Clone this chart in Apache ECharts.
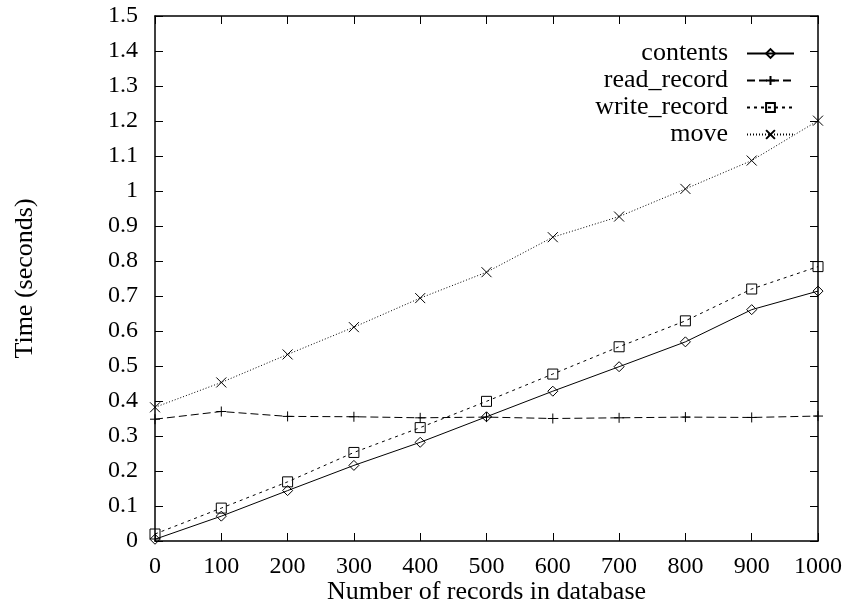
<!DOCTYPE html>
<html lang="en">
<head>
    <meta charset="UTF-8">
    <title>records-timing</title>
    <script src="https://cdn.jsdelivr.net/npm/echarts@6/dist/echarts.min.js"></script>
    <style>
        html, body {
            margin: 0;
            padding: 0;
            background: #fff;
        }

        #main {
            width: 846px;
            height: 606px;
        }
    </style>
</head>
<body>
<div id="main"></div>
<script>
    //数据
    let records = [0, 100, 200, 300, 400, 500, 600, 700, 800, 900, 1000];
    let contents = [0.005, 0.071, 0.144, 0.216, 0.282, 0.355, 0.428, 0.498, 0.569, 0.661, 0.714];
    let readRecord = [0.348, 0.370, 0.356, 0.355, 0.352, 0.354, 0.350, 0.352, 0.354, 0.353, 0.357];
    let writeRecord = [0.020, 0.094, 0.169, 0.253, 0.324, 0.399, 0.477, 0.555, 0.629, 0.720, 0.784];
    let move = [0.382, 0.453, 0.533, 0.611, 0.694, 0.768, 0.868, 0.927, 1.006, 1.087, 1.201];

    let fontName = '"Liberation Serif", "DejaVu Serif", serif';

    //符号
    let plusSymbol = 'path://M5,0V10M0,5H10';
    let crossSymbol = 'path://M0,0L10,10M10,0L0,10';
    let boxSymbol = 'path://M0,0H10V10H0Z';
    let diamondSymbol = 'path://M5,0L10,5L5,10L0,5Z';

    function pairs(ys) {
        return records.map((x, i) => [x, ys[i]]);
    }

    function makeSeries(name, ys, symbol, size, dash) {
        return {
            name: name,
            type: 'line',
            data: pairs(ys),
            symbol: symbol,
            symbolSize: size,
            showAllSymbol: true,
            itemStyle: {
                color: 'rgba(0,0,0,0)',
                borderColor: '#000',
                borderWidth: 1
            },
            lineStyle: {
                color: '#000',
                width: 1,
                type: dash
            },
            emphasis: {disabled: true}
        };
    }

    function sideAxis(pos, isX) {
        let axis = {
            type: 'value',
            position: pos,
            axisLine: {show: true, onZero: false, lineStyle: {color: '#000', width: 1.5}},
            axisTick: {show: true, inside: true, length: 8, lineStyle: {color: '#000', width: 1}},
            axisLabel: {show: false},
            splitLine: {show: false}
        };
        if (isX) {
            axis.min = 0;
            axis.max = 1000;
            axis.interval = 100;
        } else {
            axis.min = 0;
            axis.max = 1.5;
            axis.interval = 0.1;
        }
        return axis;
    }

    let xMain = sideAxis('bottom', true);
    xMain.axisLabel = {
        show: true, color: '#000', fontFamily: fontName, fontSize: 24, margin: 14,
        formatter: v => String(v)
    };
    xMain.name = 'Number of records in database';
    xMain.nameLocation = 'middle';
    xMain.nameGap = 38;
    xMain.nameMoveOverlap = false;
    xMain.nameTextStyle = {color: '#000', fontFamily: fontName, fontSize: 26};

    let yMain = sideAxis('left', false);
    yMain.axisLabel = {show: true, color: '#000', fontFamily: fontName, fontSize: 24, margin: 17};
    yMain.name = 'Time (seconds)';
    yMain.nameLocation = 'middle';
    yMain.nameGap = 117;
    yMain.nameMoveOverlap = false;
    yMain.nameTextStyle = {color: '#000', fontFamily: fontName, fontSize: 26};

    let option = {
        animation: false,
        backgroundColor: '#fff',
        grid: {
            left: 155,
            right: 28,
            top: 16,
            bottom: 65,
            outerBoundsMode: 'none'
        },
        legend: {
            orient: 'vertical',
            right: 46,
            top: 35,
            align: 'right',
            itemWidth: 47,
            itemHeight: 11,
            itemGap: 0,
            selectedMode: false,
            textStyle: {
                color: '#000',
                fontFamily: fontName,
                fontSize: 26,
                lineHeight: 27,
                padding: [0, 14, 0, 0]
            },
            data: ['contents', 'read_record', 'write_record', 'move']
        },
        xAxis: [xMain, sideAxis('top', true)],
        yAxis: [yMain, sideAxis('right', false)],
        series: [
            makeSeries('contents', contents, diamondSymbol, 10, 'solid'),
            makeSeries('read_record', readRecord, plusSymbol, 10, [8, 4]),
            makeSeries('write_record', writeRecord, boxSymbol, 10, [3, 4]),
            makeSeries('move', move, crossSymbol, 10, [1, 2])
        ]
    };

    let myChart = echarts.init(document.getElementById('main'), null, {
        renderer: 'canvas'
    });
    myChart.setOption(option);
</script>
</body>
</html>
